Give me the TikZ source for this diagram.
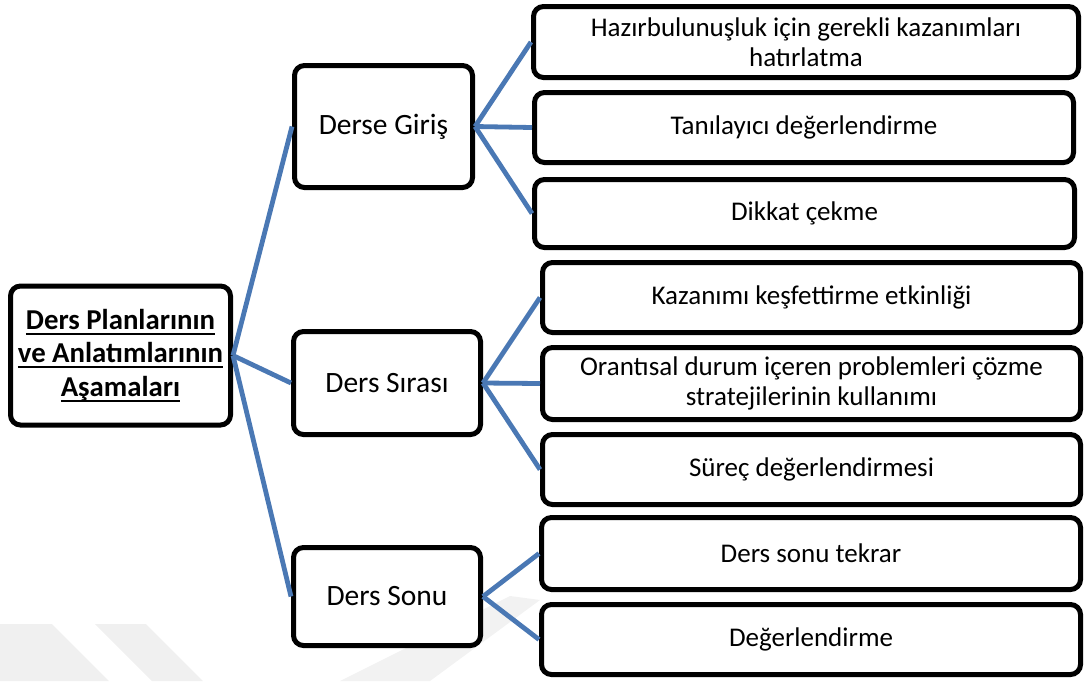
\documentclass[tikz,border=0pt]{standalone}
\usepackage{fontspec}
\setmainfont{Carlito}
\definecolor{linkblue}{RGB}{74,120,180}
% underline at a fixed depth
\newcommand\ulline[1]{\setbox0\hbox{#1}\rlap{\rule[-5.5pt]{\wd0}{2pt}}\box0}

\begin{document}
\begin{tikzpicture}[x=1pt,y=-1pt,
    box/.style={draw,line width=5pt,rounded corners=10pt,fill=white,align=center,inner sep=2pt},
    midbox/.style={box,font=\fontsize{29.5}{33}\selectfont},
    itembox/.style={box,font=\fontsize{27}{30.5}\selectfont},
    link/.style={draw=linkblue,line width=4.8pt}]
    \useasboundingbox (0,0) rectangle (1085,681);

    % faint stripes along the bottom
    \fill[black!6] (0,624) -- (52,624) -- (109,681) -- (0,681) -- cycle;
    \fill[black!6] (95,624) -- (146,624) -- (203,681) -- (152,681) -- cycle;
    \fill[black!5] (340,681) -- (430,681) -- (540,600) -- (510,596) -- cycle;

    \node[box,minimum width=220pt,minimum height=139pt,
          font=\fontsize{28.8}{33.5}\selectfont\bfseries] (plan) at (120.5,355.5)
          {\ulline{Ders Planlarının}\\\ulline{ve Anlatımlarının}\\\ulline{Aşamaları}};

    \node[midbox,minimum width=178pt,minimum height=122pt] (giris) at (383.5,126.5) {Derse Giriş};
    \node[midbox,minimum width=187pt,minimum height=103pt] (sira) at (387,383) {Ders Sırası};
    \node[midbox,minimum width=187pt,minimum height=98pt] (sonu) at (387,596.5) {Ders Sonu};

    \node[itembox,minimum width=545pt,minimum height=71pt] (hazir) at (806,42)
          {Hazırbulunuşluk için gerekli kazanımları\\hatırlatma};
    \node[itembox,minimum width=539pt,minimum height=70pt] (tani) at (804,127.5) {Tanılayıcı değerlendirme};
    \node[itembox,minimum width=540pt,minimum height=68pt] (dikkat) at (804.5,213.5) {Dikkat çekme};
    \node[itembox,minimum width=538pt,minimum height=70pt] (kesif) at (811.5,297.5) {Kazanımı keşfettirme etkinliği};
    \node[itembox,minimum width=538pt,minimum height=72pt] (oran) at (811.5,383.5)
          {Orantısal durum içeren problemleri çözme\\stratejilerinin kullanımı};
    \node[itembox,minimum width=538pt,minimum height=70pt] (surec) at (811.5,469.5) {Süreç değerlendirmesi};
    \node[itembox,minimum width=539pt,minimum height=72pt] (tekrar) at (811,553.5) {Ders sonu tekrar};
    \node[itembox,minimum width=539pt,minimum height=70pt] (deger) at (811,639.5) {Değerlendirme};

    \draw[link] (plan.east)--(giris.west);
    \draw[link] (plan.east)--(sira.west);
    \draw[link] (plan.east)--(sonu.west);

    \draw[link] (giris.east)--(hazir.west);
    \draw[link] (giris.east)--(tani.west);
    \draw[link] (giris.east)--(dikkat.west);

    \draw[link] (sira.east)--(kesif.west);
    \draw[link] (sira.east)--(oran.west);
    \draw[link] (sira.east)--(surec.west);

    \draw[link] (sonu.east)--(tekrar.west);
    \draw[link] (sonu.east)--(deger.west);
\end{tikzpicture}
\end{document}
